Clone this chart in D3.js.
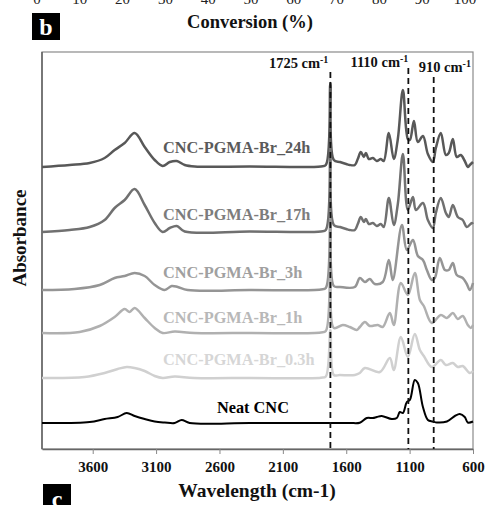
<!DOCTYPE html>
<html><head><meta charset="utf-8">
<script src="https://cdn.jsdelivr.net/npm/d3@7/dist/d3.min.js"></script>
<style>body{margin:0;background:#fff}svg{display:block}text{font-family:"Liberation Serif","Times New Roman",serif;font-weight:bold}</style>
</head><body><svg id="c" width="488" height="505"></svg>
<script>
// ---- data (wavenumber cm-1, relative absorbance, arbitrary units) ----
const xTicks = [3600, 3100, 2600, 2100, 1600, 1100, 600];
const topTicks = [0, 10, 20, 30, 40, 50, 60, 70, 80, 90, 100];
const seriesNames = ["CNC-PGMA-Br_24h","CNC-PGMA-Br_17h","CNC-PGMA-Br_3h","CNC-PGMA-Br_1h","CNC-PGMA-Br_0.3h","Neat CNC"];
const seriesOffsets = [282, 217, 159, 116, 71, 26];
const labelLevels = [302, 235, 177, 132, 90, 42];
const refLines = [1725, 1110, 910];
const refLabels = ["1725 cm","1110 cm","910 cm"];

const s24 = [[4000,0],[3782,2],[3624,4],[3506,9],[3427,17],[3348,24],[3269,34],[3190,20],[3111,7],[3048,1],[2992,5],[2937,6],[2874,2],[2795,0.5],[2361,0.5],[1800,0.5],[1761,2],[1725,84],[1698,7],[1650,5],[1600,3],[1572,2],[1532,2],[1509,8],[1485,15],[1461,10],[1445,14],[1422,8],[1390,9],[1359,6],[1327,8],[1304,6],[1264,34],[1225,8],[1193,28],[1153,77],[1114,28],[1098,27],[1066,46],[1035,25],[995,31],[956,13],[917,5],[893,19],[854,34],[814,12],[791,14],[759,28],[728,10],[696,12],[665,6],[641,0],[625,2],[600,5]];
const s17 = [[4000,0],[3782,2],[3624,5],[3506,12],[3427,24],[3348,32],[3269,43],[3190,27],[3111,9],[3048,0],[2992,4],[2937,6],[2874,0.5],[2361,0.5],[1800,0.5],[1761,2],[1725,88],[1698,7],[1650,5],[1600,3],[1572,2],[1532,2],[1509,8],[1485,15],[1461,10],[1445,13],[1422,8],[1390,9],[1359,6],[1327,8],[1304,5],[1264,34],[1225,7],[1193,28],[1153,78],[1114,22],[1074,35],[1050,22],[995,29],[956,12],[917,4],[893,19],[854,34],[814,19],[791,15],[759,27],[720,15],[681,12],[649,5],[609,9],[600,8]];
const s3 = [[4000,0],[3743,1],[3545,5],[3427,12],[3348,14],[3269,17],[3190,14],[3111,5],[3032,0],[2977,4],[2929,3],[2851,0],[2361,0],[1800,0.5],[1761,2],[1725,72],[1698,4],[1650,3],[1532,3],[1493,12],[1453,8],[1414,11],[1375,6],[1312,8],[1264,30],[1233,10],[1161,65],[1122,40],[1074,50],[1035,34],[995,30],[964,20],[925,10],[901,12],[862,32],[822,20],[791,20],[759,27],[728,15],[681,12],[649,6],[625,0],[600,7]];
const s1 = [[4000,0],[3703,1],[3545,7],[3427,16],[3348,24],[3309,21],[3269,25],[3190,15],[3111,5],[3048,0],[2953,1.5],[2800,0],[2361,0],[1800,0.5],[1761,2],[1725,60],[1698,5],[1627,8],[1572,6],[1517,3],[1493,6],[1453,11],[1414,7],[1351,8],[1312,6],[1256,20],[1225,8],[1169,50],[1114,38],[1059,60],[1019,33],[988,27],[925,10],[854,18],[806,15],[759,20],[720,14],[681,17],[641,8],[617,5],[600,8]];
const s03 = [[4000,0],[3664,1],[3506,5],[3403,9],[3332,11],[3269,10],[3190,7],[3111,2],[3048,0],[2953,1.5],[2800,0],[2361,0],[1800,0.3],[1761,1.5],[1725,48],[1698,3],[1650,3],[1532,3],[1493,5],[1453,10],[1335,6],[1256,20],[1225,8],[1169,41],[1114,21],[1059,44],[1019,28],[988,22],[925,11],[854,18],[814,13],[759,15],[720,11],[681,12],[625,5],[600,7]];
const sNeat = [[4000,0],[3624,1],[3506,4],[3403,6],[3332,10],[3269,7],[3190,4],[3111,1.5],[3032,0.5],[2953,0],[2898,3],[2835,0],[2361,0],[1800,0],[1572,0],[1493,0.3],[1438,5],[1390,5],[1359,6],[1320,7],[1241,4],[1201,5],[1177,11],[1153,10],[1122,21],[1098,23],[1059,43],[1035,40],[995,16],[956,3],[917,1.5],[885,0.5],[806,1.5],[743,7],[704,9],[665,6],[641,0.5],[600,1.5]];
const seriesData = [s24, s17, s3, s1, s03, sNeat];
const seriesColors = ["#585858","#707070","#959595","#b0b0b0","#d0d0d0","#000000"];
const labelColors = ["#5a5a5a","#7c7c7c","#a0a0a0","#b8b8b8","#d6d6d6","#000000"];

// ---- layout ----
const svg = d3.select("#c");
const L = 42, R = 473, T = 52, B = 449;
const x = d3.scaleLinear().domain([4000, 600]).range([L, R]);
const y = d3.scaleLinear().domain([0, 397]).range([B, T]);
const xTop = d3.scaleLinear().domain([0, 100]).range([37, 465]);

// cut-off top axis labels from previous panel
svg.selectAll("text.tt").data(topTicks).join("text").attr("class","tt")
  .attr("x", d => xTop(d)).attr("y", 4).attr("text-anchor","middle")
  .attr("font-size", 15).style("font-weight","normal").attr("fill","#222").text(d => d);
svg.append("text").attr("x", 250).attr("y", 28).attr("text-anchor","middle")
  .attr("font-size", 18.5).attr("fill","#111").text("Conversion (%)");

// panel letters
svg.append("rect").attr("x", 32).attr("y", 13).attr("width", 28).attr("height", 27).attr("fill","#000");
svg.append("text").attr("x", 46).attr("y", 35).attr("text-anchor","middle").attr("font-size", 24).attr("fill","#fff").text("b");
svg.append("rect").attr("x", 43).attr("y", 484).attr("width", 28).attr("height", 30).attr("fill","#000");
svg.append("text").attr("x", 57).attr("y", 507).attr("text-anchor","middle").attr("font-size", 24).attr("fill","#fff").text("c");

// frame
svg.append("rect").attr("x", L).attr("y", T).attr("width", R - L).attr("height", B - T)
  .attr("fill","none").attr("stroke","#8a8a8a").attr("stroke-width", 1.2);
svg.append("line").attr("x1", L).attr("x2", L).attr("y1", T).attr("y2", B).attr("stroke","#555").attr("stroke-width",1.3);

// bottom axis
const ax = svg.append("g").attr("transform", `translate(0,${B})`)
  .call(d3.axisBottom(x).tickValues(xTicks).tickSize(5).tickSizeOuter(0).tickFormat(d3.format("d")));
ax.select(".domain").attr("stroke","#666").attr("stroke-width",1.3);
ax.selectAll(".tick line").attr("stroke","#888");
ax.selectAll(".tick text").attr("font-size", 15).attr("fill","#111").attr("y", 12).attr("dy", "0.71em")
  .style("font-family",'"Liberation Serif",serif').style("font-weight","bold");

svg.append("text").attr("x", 257).attr("y", 497).attr("text-anchor","middle")
  .attr("font-size", 19.5).attr("fill","#111").text("Wavelength (cm-1)");
svg.append("text").attr("transform", `translate(26,238) rotate(-90)`).attr("text-anchor","middle")
  .attr("font-size", 19).attr("fill","#111").text("Absorbance");

// spectra
const line = d3.line().x(d => x(d[0])).y(d => y(d[1])).curve(d3.curveCatmullRom.alpha(0.5));
const g = svg.append("g");
seriesData.forEach((s, i) => {
  g.append("path").datum(s.map(p => [p[0], p[1] + seriesOffsets[i]]))
    .attr("d", line).attr("fill","none").attr("stroke", seriesColors[i])
    .attr("stroke-width", i === 5 ? 2 : 2.5).attr("stroke-linejoin","round");
});
// labels
seriesNames.forEach((n, i) => {
  svg.append("text").attr("x", i === 5 ? 217 : 163).attr("y", y(labelLevels[i]))
    .attr("dy","0.35em").attr("font-size", 16.3).attr("fill", labelColors[i]).text(n);
});

// reference dashed lines
const refTop = [72, 68, 77];
const refLabelX = [x(1725) - 2, x(1110), x(910) - 15];
const refLabelAnchor = ["end", "end", "start"];
const refLabelY = [68, 67, 72];
refLines.forEach((r, i) => {
  svg.append("line").attr("x1", x(r)).attr("x2", x(r)).attr("y1", refTop[i]).attr("y2", B)
    .attr("stroke","#111").attr("stroke-width", 1.8).attr("stroke-dasharray","6,4");
  const t = svg.append("text").attr("x", refLabelX[i]).attr("y", refLabelY[i])
    .attr("text-anchor", refLabelAnchor[i]).attr("font-size", 14.5).attr("fill","#111");
  t.append("tspan").text(refLabels[i]);
  t.append("tspan").attr("dy", -5).attr("font-size", 10).text("-1");
});
</script></body></html>
